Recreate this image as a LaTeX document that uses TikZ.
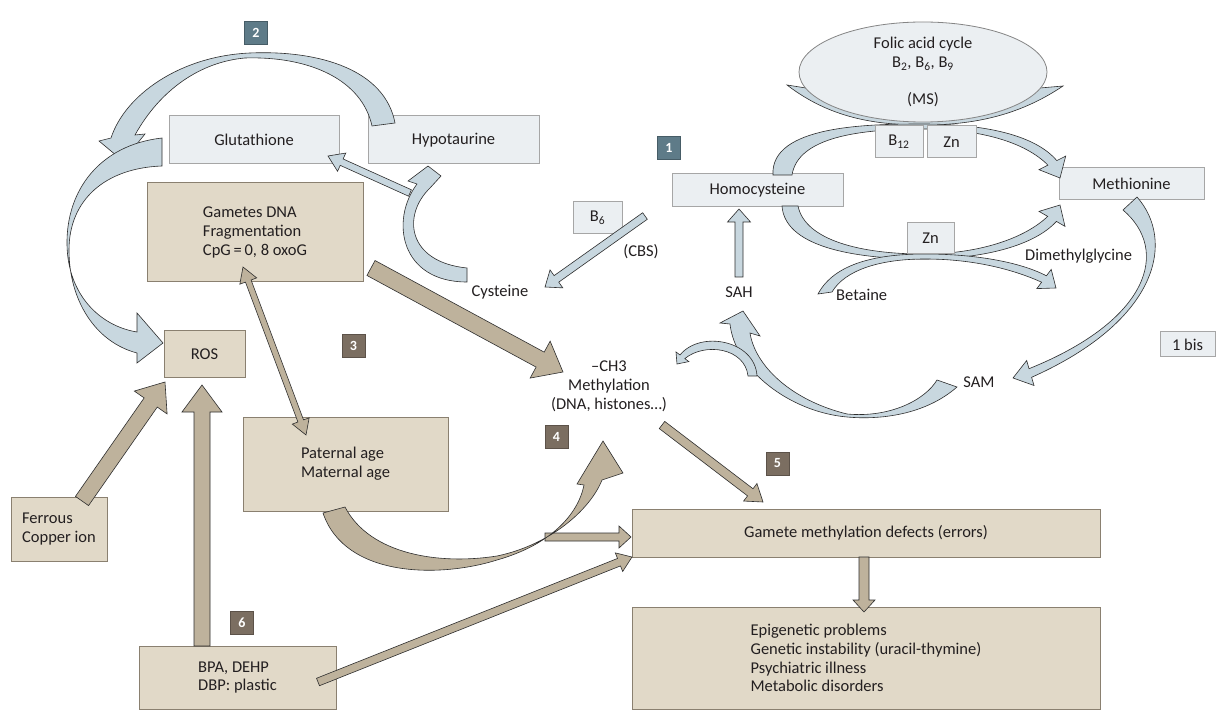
\documentclass[tikz,border=0pt]{standalone}
\usepackage{fontspec}
\setmainfont{Carlito}
\usetikzlibrary{calc,shapes.geometric}
\definecolor{boxlight}{HTML}{EBEFF2}
\definecolor{boxlightdraw}{HTML}{A6A6A6}
\definecolor{boxtan}{HTML}{E1D9C8}
\definecolor{boxtandraw}{HTML}{8A8070}
\definecolor{arrblue}{HTML}{C8D7DF}
\definecolor{arrtan}{HTML}{BEB29C}
\definecolor{outl}{HTML}{2E2E2E}
\definecolor{slate}{HTML}{5E7B88}
\definecolor{brownb}{HTML}{7B6E61}
\definecolor{txt}{HTML}{231F20}
% straight block arrow: style, tail, tip, shaft half width, head length, head half width
\newcommand\sarr[6]{%
 \coordinate (sab) at ($#3!#5pt!#2$);
 \path[#1] ($#2!#4pt!90:#3$) -- ($(sab)!#4pt!90:#3$) -- ($(sab)!#6pt!90:#3$) -- #3 --
   ($(sab)!#6pt!-90:#3$) -- ($(sab)!#4pt!-90:#3$) -- ($#2!#4pt!-90:#3$) -- cycle;}
% double headed block arrow
\newcommand\dbarr[6]{%
 \coordinate (sab) at ($#3!#5pt!#2$);
 \coordinate (sac) at ($#2!#5pt!#3$);
 \path[#1] #2 -- ($(sac)!#6pt!90:#3$) -- ($(sac)!#4pt!90:#3$) -- ($(sab)!#4pt!90:#3$) --
   ($(sab)!#6pt!90:#3$) -- #3 -- ($(sab)!#6pt!-90:#3$) -- ($(sab)!#4pt!-90:#3$) --
   ($(sac)!#4pt!-90:#3$) -- ($(sac)!#6pt!-90:#3$) -- cycle;}
\begin{document}
\begin{tikzpicture}[x=1pt,y=-1pt,
  font=\fontsize{16.5}{18.8}\selectfont, text=txt,
  lbox/.style={draw=boxlightdraw, fill=boxlight, line width=1pt, inner sep=0pt, outer sep=0pt},
  tbox/.style={draw=boxtandraw, fill=boxtan, line width=1pt, inner sep=0pt, outer sep=0pt, align=left},
  badge/.style={fill=#1, draw=#1!75!black, line width=0.8pt, minimum size=23pt, inner sep=0pt,
    text=white, font=\fontsize{14}{14}\selectfont\bfseries},
  blarr/.style={fill=arrblue, draw=outl, line width=0.6pt},
  tanarr/.style={fill=arrtan, draw=outl, line width=0.6pt},
  lbl/.style={inner sep=0pt}]
\useasboundingbox (0,0) rectangle (1216,711);
\fill[white] (0,0) rectangle (1216,711);

% ---------- main boxes ----------
\node[lbox, minimum width=170pt, minimum height=48pt] (glut) at (254,140) {Glutathione};
\node[lbox, minimum width=171pt, minimum height=48pt] (hypo) at (453.5,140) {Hypotaurine};
\node[tbox, minimum width=216pt, minimum height=99pt] (gam) at (255,232.5) {Gametes DNA\\Fragmentation\\CpG\,=\,0, 8 oxoG};
\node[tbox, minimum width=81pt, minimum height=47pt] (ros) at (204.5,354.5) {ROS};
\node[tbox, minimum width=205pt, minimum height=94pt] (pat) at (345.5,464) {Paternal age\\Maternal age};
\node[tbox, minimum width=96pt, minimum height=64pt] (fer) at (59,529) {Ferrous\\Copper ion};
\node[tbox, minimum width=197pt, minimum height=63pt] (bpa) at (237.5,677.5) {BPA, DEHP\\DBP: plastic};
\node[tbox, minimum width=468pt, minimum height=48pt] (gmd) at (866,533) {Gamete methylation defects (errors)};
\node[tbox, minimum width=468pt, minimum height=102pt] (epi) at (866,658) {Epigenetic problems\\Genetic instability (uracil-thymine)\\Psychiatric illness\\Metabolic disorders};
\node[lbox, minimum width=171pt, minimum height=33pt] (homo) at (757.5,190.5) {Homocysteine};
\node[lbox, minimum width=145pt, minimum height=32pt] (meth) at (1131.5,184) {Methionine};
\node[lbox, minimum width=49pt, minimum height=32pt] (b6) at (597.5,218) {B\textsubscript{6}};
\node[lbox, minimum width=55pt, minimum height=25pt] (onebis) at (1187.5,344.5) {1 bis};

% ---------- folic acid cycle ----------
\draw[blarr] (787,85) .. controls (830,118) and (875,125) .. (923,125) .. controls (975,125) and (1020,115) .. (1063,86) -- (1040,88) -- (806,88) -- cycle;
\node[ellipse, draw=boxlightdraw!80!black, fill=boxlight, line width=0.8pt, minimum width=248pt, minimum height=100pt, inner sep=0pt, align=center] (folic) at (923,72) {Folic acid cycle\\B\textsubscript{2}, B\textsubscript{6}, B\textsubscript{9}\\[18pt](MS)};

% ---------- coordinates for straight arrows ----------
\coordinate (cysT) at (410,193);  \coordinate (glutH) at (328,156);
\coordinate (cbsT) at (645,216);  \coordinate (cbsH) at (545,287);
\coordinate (sahT) at (739,277);  \coordinate (sahH) at (739,209);
\coordinate (gamT) at (371,268);  \coordinate (ch3H) at (563,372);
\coordinate (ferT) at (82,501);   \coordinate (rosHa) at (165,382);
\coordinate (bpaT) at (202,646);  \coordinate (rosHb) at (202,385);
\coordinate (bpaTb) at (318,682); \coordinate (gmdHa) at (632,557);
\coordinate (curT) at (545,537);  \coordinate (gmdHb) at (631,537);
\coordinate (ch3T) at (662,425);  \coordinate (gmdHc) at (763,502);
\coordinate (gmdB) at (864,557);  \coordinate (epiH) at (864,612);
\coordinate (gamB) at (243,267);  \coordinate (patH) at (306,435);

% ---------- blue arrows ----------
% Hypotaurine -> Glutathione side (big arc)
\draw[blarr] (395,123) .. controls (385,70) and (320,50) .. (250,53) .. controls (180,56) and (125,95) .. (111,138)
  -- (99,141) -- (123,161) -- (145,134) -- (135,135)
  .. controls (160,90) and (200,62) .. (245,58) .. controls (310,56) and (362,80) .. (372,126) -- cycle;
% Glutathione -> ROS
\draw[blarr] (162,138) .. controls (100,145) and (66,190) .. (67,245) .. controls (68,295) and (100,326) .. (137,332)
  -- (137,313) -- (163,343) -- (137,363) -- (137,353)
  .. controls (95,342) and (69,300) .. (69,250) .. controls (69,200) and (105,168) .. (162,166) -- cycle;
% Cysteine -> Hypotaurine
\draw[blarr] (467,282) .. controls (400,282) and (390,220) .. (417,184) -- (408,181) -- (428,166) -- (441,176) -- (430,188)
  .. controls (402,215) and (407,262) .. (467,268) -- cycle;
% Cysteine -> Glutathione
\sarr{blarr}{(cysT)}{(glutH)}{3.5}{15}{10}
% CBS
\sarr{blarr}{(cbsT)}{(cbsH)}{4}{14}{11}
% SAH -> Homocysteine
\sarr{blarr}{(sahT)}{(sahH)}{4}{13}{11.5}
% Homocysteine -> Methionine (upper, MS)
\draw[blarr] (773,175) .. controls (770,125) and (870,124) .. (923,124) .. controls (985,124) and (1035,135) .. (1056.8,160.6)
  -- (1065.7,156.1) -- (1060,178) -- (1039,169.7) -- (1047.9,165.1)
  .. controls (1025,142) and (980,129) .. (923,129) .. controls (860,129) and (798,137) .. (792,175) -- cycle;
% Homocysteine -> Methionine (lower, Zn)
\draw[blarr] (782,206) .. controls (785,250) and (865,259) .. (923,259) .. controls (985,259) and (1035,245) .. (1056.4,221.4)
  -- (1065,226.4) -- (1060,205) -- (1039,211.4) -- (1047.7,216.4)
  .. controls (1025,238) and (980,254) .. (923,254) .. controls (860,254) and (805,240) .. (798,206) -- cycle;
% Betaine -> Dimethylglycine
\draw[blarr] (818,294) .. controls (835,262) and (880,254) .. (925,254) .. controls (975,254) and (1020,262) .. (1046.4,275.8)
  -- (1051.2,269.4) -- (1056,288) -- (1036.8,288.6) -- (1041.6,282.2)
  .. controls (1010,268) and (970,259) .. (925,259) .. controls (880,259) and (845,270) .. (832,292) -- cycle;
% Methionine -> SAM
\draw[blarr] (1137,197) .. controls (1175,240) and (1160,320) .. (1031.6,377.3)
  -- (1034,385.5) -- (1013,378) -- (1026.7,360.5) -- (1029,368.7)
  .. controls (1150,320) and (1170,250) .. (1123,210) -- cycle;
% SAM -> SAH
\draw[blarr] (957,387) .. controls (925,415) and (880,420) .. (847,417) .. controls (790,412) and (735,370) .. (730,324)
  -- (720,323) -- (743,311) -- (760,336) -- (750,333)
  .. controls (755,365) and (790,400) .. (847,414) .. controls (890,418) and (925,400) .. (937,380) -- cycle;
% small arrow to methylation
\draw[blarr] (757,376) .. controls (755,340) and (700,330) .. (680,355) -- (676,352) -- (677,364) -- (688.8,361.6) -- (684.8,358.6)
  .. controls (705,342) and (745,348) .. (748,376) -- cycle;

% ---------- tan arrows ----------
\sarr{tanarr}{(gamT)}{(ch3H)}{8.5}{26}{21}
\sarr{tanarr}{(ferT)}{(rosHa)}{8}{25}{20}
\sarr{tanarr}{(bpaT)}{(rosHb)}{8}{27}{20}
\sarr{tanarr}{(bpaTb)}{(gmdHa)}{4}{14}{10}
\sarr{tanarr}{(curT)}{(gmdHb)}{4}{12}{11}
\sarr{tanarr}{(ch3T)}{(gmdHc)}{4.5}{16}{11}
\sarr{tanarr}{(gmdB)}{(epiH)}{5}{12}{11}
\dbarr{tanarr}{(gamB)}{(patH)}{3}{15}{9}
% Paternal age -> methylation (curved)
\draw[tanarr] (323,513) .. controls (345,578) and (440,578) .. (497,560) .. controls (550,545) and (578,515) .. (584,485)
  -- (577,484) -- (603,441) -- (623,473) -- (602,480)
  .. controls (590,510) and (550,545) .. (497,556) .. controls (440,565) and (370,555) .. (345,507) -- cycle;

% ---------- small boxes on top ----------
\node[lbox, minimum width=48pt, minimum height=32pt] (b12) at (899,142) {B\textsubscript{12}};
\node[lbox, minimum width=49pt, minimum height=32pt] (zna) at (951.5,142) {Zn};
\node[lbox, minimum width=47pt, minimum height=31pt] (znb) at (930.5,238.5) {Zn};

% ---------- labels ----------
\node[lbl] (cys) at (500,292) {Cysteine};
\node[lbl] (cbs) at (641,252) {(CBS)};
\node[lbl] (sah) at (739,292) {SAH};
\node[lbl, anchor=west] (bet) at (836,295) {Betaine};
\node[lbl, anchor=west] (dmg) at (1025,256) {Dimethylglycine};
\node[lbl] (sam) at (979,382) {SAM};
\node[lbl, align=center] (ch3) at (609,386) {–CH3\\Methylation\\(DNA, histones…)};

% ---------- badges ----------
\node[badge=slate] (n2) at (256,33) {2};
\node[badge=slate] (n1) at (669,147.5) {1};
\node[badge=brownb] (n3) at (353.5,345.5) {3};
\node[badge=brownb] (n4) at (556.5,436.5) {4};
\node[badge=brownb] (n5) at (777.5,463.5) {5};
\node[badge=brownb] (n6) at (242,623) {6};
\end{tikzpicture}
\end{document}
